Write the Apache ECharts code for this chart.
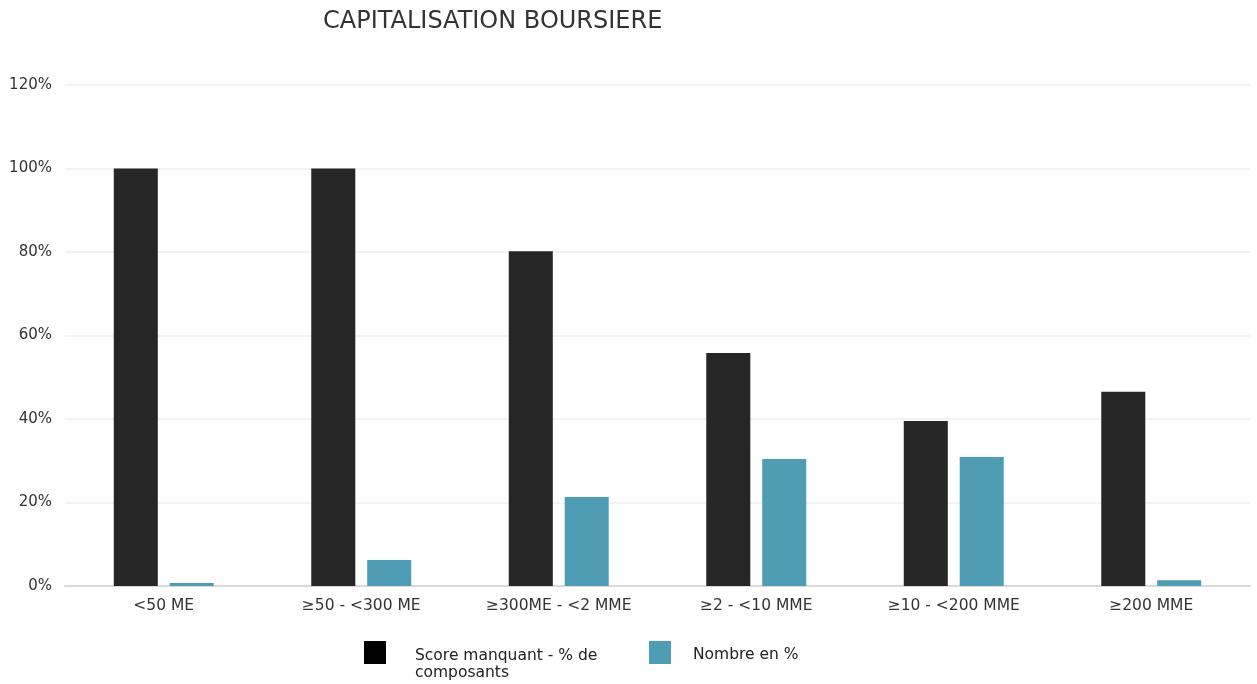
<!DOCTYPE html>
<html><head><meta charset="utf-8">
<script src="https://cdn.jsdelivr.net/npm/echarts@6/dist/echarts.min.js"></script>
<style>html,body{margin:0;padding:0;background:#fff}#c{width:1257px;height:684px}</style>
</head><body><div id="c"></div>
<script>
const categories = ['<50 ME', '≥50 - <300 ME', '≥300ME - <2 MME', '≥2 - <10 MME', '≥10 - <200 MME', '≥200 MME'];
const scoreManquant = [100, 100, 80.2, 55.8, 39.5, 46.5];
const nombre = [0.7, 6.2, 21.3, 30.4, 30.9, 1.4];
const yTicks = [0, 20, 40, 60, 80, 100, 120];
const seriesNames = ['Score manquant - % de composants', 'Nombre en %'];

const font = '"DejaVu Sans", sans-serif';
const chart = echarts.init(document.getElementById('c'));
chart.setOption({
  animation: false,
  title: {
    text: 'CAPITALISATION BOURSIERE', left: 318, top: 5,
    textStyle: { fontFamily: font, fontSize: 24, fontWeight: 'normal', color: '#333' }
  },
  legend: [
    { data: [seriesNames[0]], left: 364, top: 624, padding: 0, itemWidth: 22, itemHeight: 23, icon: 'rect',
      itemStyle: { color: '#000' },
      formatter: () => '{a|Score manquant - % de\ncomposants}',
      textStyle: { fontFamily: font, fontSize: 15.5, color: '#222',
        rich: { a: { fontFamily: font, fontSize: 15.5, color: '#222', lineHeight: 17, padding: [24, 0, 0, 24] } } } },
    { data: [seriesNames[1]], left: 649, top: 641, padding: 0, itemWidth: 22, itemHeight: 23, icon: 'rect',
      formatter: () => '{b|Nombre en %}',
      textStyle: { fontFamily: font, fontSize: 15.5, color: '#222',
        rich: { b: { fontFamily: font, fontSize: 15.5, color: '#222', padding: [5, 0, 0, 17] } } } }
  ],
  grid: { left: 65, right: 7, top: 85, bottom: 98, containLabel: false },
  xAxis: {
    type: 'category', data: categories,
    axisLine: { lineStyle: { color: '#d9d9d9', width: 2 } },
    axisTick: { show: false },
    axisLabel: { fontFamily: font, fontSize: 15.5, color: '#333', margin: 12 }
  },
  yAxis: {
    type: 'value', min: 0, max: 120, interval: 20,
    axisLabel: { fontFamily: font, fontSize: 15, color: '#333', margin: 13, formatter: v => v + '%' },
    splitLine: { lineStyle: { color: '#efefef', width: 1.5 } },
    axisLine: { show: false }, axisTick: { show: false }
  },
  series: [
    { name: seriesNames[0], type: 'bar', data: scoreManquant, barWidth: '22.3%', barGap: '27%',
      itemStyle: { color: '#262626' } },
    { name: seriesNames[1], type: 'bar', data: nombre, barWidth: '22.3%',
      itemStyle: { color: '#4e9db5' } }
  ]
});
</script></body></html>
